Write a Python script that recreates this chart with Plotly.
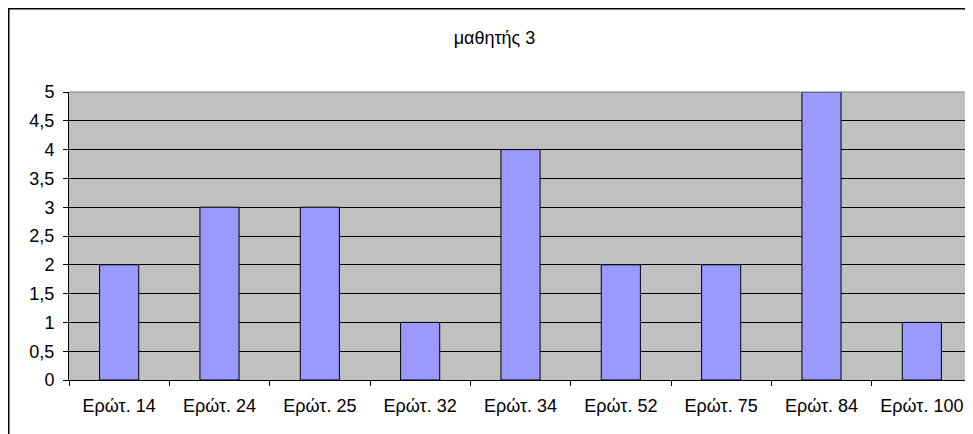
import plotly.graph_objects as go

categories = ["Ερώτ. 14", "Ερώτ. 24", "Ερώτ. 25", "Ερώτ. 32", "Ερώτ. 34",
              "Ερώτ. 52", "Ερώτ. 75", "Ερώτ. 84", "Ερώτ. 100"]
values = [2, 3, 3, 1, 4, 2, 2, 5, 1]
title_text = "μαθητής 3"
y_ticks = [0, 0.5, 1, 1.5, 2, 2.5, 3, 3.5, 4, 4.5, 5]

FONT = "Arial, Liberation Sans, sans-serif"
FS = 18


def fmt(v):
    s = ("%g" % v).replace(".", ",")
    return s + "\u00a0"


fig = go.Figure()
fig.add_trace(go.Bar(
    x=categories, y=values,
    marker=dict(color="#9999FF", line=dict(color="#000000", width=1)),
    width=0.39,
))

# page has 8px body margin; figure sized to fit window
W, H = 965, 426
L, R, T, B = 61, 1, 84, 54
pw = W - L - R
ph = H - T - B

fig.update_layout(
    width=W, height=H,
    margin=dict(l=L, r=R, t=T, b=B, pad=0),
    paper_bgcolor="white",
    plot_bgcolor="#C0C0C0",
    separators=",.",
    showlegend=False,
    font=dict(family=FONT, size=FS, color="black"),
    title=dict(text=title_text, x=486.5 / W, xanchor="center",
               y=1 - 30 / H, yanchor="middle",
               font=dict(family=FONT, size=FS, color="black")),
    xaxis=dict(
        showgrid=False, showline=True, linecolor="black", linewidth=1,
        ticks="outside", tickson="boundaries", ticklen=5, tickcolor="black",
        ticklabelstandoff=9,
        tickfont=dict(family=FONT, size=FS, color="black"),
        zeroline=False,
    ),
    yaxis=dict(
        range=[0, 5], tickmode="array", tickvals=y_ticks,
        ticktext=[fmt(v) for v in y_ticks],
        showgrid=True, gridcolor="black", gridwidth=1,
        showline=True, linecolor="black", linewidth=1,
        ticks="outside", ticklen=5, tickcolor="black",
        tickfont=dict(family=FONT, size=FS, color="black"),
        zeroline=False,
    ),
    shapes=[
        dict(type="line", xref="paper", yref="paper", x0=0, x1=1, y0=1, y1=1,
             line=dict(color="#808080", width=1)),
        dict(type="line", xref="paper", yref="paper", x0=1, x1=1, y0=0, y1=1,
             line=dict(color="#808080", width=1)),
        dict(type="line", xref="paper", yref="paper",
             x0=(0 - L) / pw, x1=(W + 10 - L) / pw,
             y0=(H - B - 0.5) / ph, y1=(H - B - 0.5) / ph,
             line=dict(color="black", width=2)),
        dict(type="line", xref="paper", yref="paper",
             x0=(0.5 - L) / pw, x1=(0.5 - L) / pw,
             y0=(H - B) / ph, y1=-(B + 10) / ph,
             line=dict(color="black", width=2)),
    ],
)

fig.write_html("out.html")
